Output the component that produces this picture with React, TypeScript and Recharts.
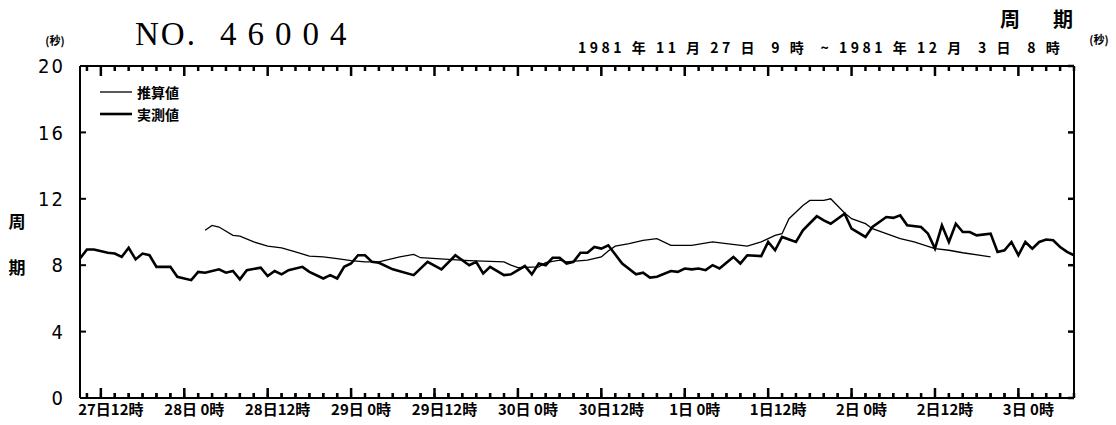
import { LineChart, Line, XAxis, YAxis, Legend } from "recharts";

// hours counted from 1981-11-27 9時
const measuredHours = [
  0, 1, 2, 4, 5, 6, 7, 8, 9, 10, 11, 13, 14, 16, 17, 18, 20, 21, 22, 23, 24, 26,
  27, 28, 29, 30, 32, 33, 35, 36, 37, 38, 39, 40, 41, 42, 43, 45, 48, 50, 52, 54,
  56, 57, 58, 59, 61, 62, 64, 65, 66, 67, 68, 69, 70, 71, 72, 73, 74, 75, 76, 78,
  80, 81, 82, 83, 85, 86, 87, 88, 89, 90, 91, 92, 94, 95, 96, 98, 99, 100, 101,
  103, 104, 106, 107, 108, 110, 111, 113, 114, 116, 117, 118, 119, 121, 122, 123,
  124, 125, 126, 127, 128, 129, 131, 132, 133, 134, 135, 136, 137, 138, 139, 140,
  141, 142, 143,
];
const measuredPeriod = [
  8.4, 8.95, 8.95, 8.75, 8.7, 8.5, 9.05, 8.35, 8.7, 8.6, 7.9, 7.9, 7.3, 7.1, 7.6,
  7.55, 7.75, 7.55, 7.65, 7.15, 7.7, 7.85, 7.35, 7.65, 7.45, 7.7, 7.9, 7.6, 7.2,
  7.4, 7.2, 7.9, 8.1, 8.6, 8.6, 8.2, 8.15, 7.75, 7.4, 8.2, 7.75, 8.6, 8.0, 8.2,
  7.5, 7.9, 7.4, 7.45, 7.95, 7.45, 8.1, 8.0, 8.45, 8.45, 8.1, 8.2, 8.75, 8.75,
  9.1, 9.0, 9.2, 8.1, 7.45, 7.55, 7.25, 7.3, 7.65, 7.6, 7.8, 7.75, 7.8, 7.7, 8.0,
  7.8, 8.5, 8.1, 8.6, 8.55, 9.4, 8.9, 9.7, 9.4, 10.1, 10.95, 10.7, 10.5, 11.1,
  10.2, 9.7, 10.3, 10.9, 10.85, 11.0, 10.4, 10.3, 9.9, 9.0, 10.4, 9.4, 10.5, 10.0,
  10.0, 9.8, 9.9, 8.8, 8.9, 9.4, 8.6, 9.4, 9.0, 9.4, 9.55, 9.5, 9.1, 8.8, 8.6,
];

const estimatedHours = [
  18, 19, 20, 22, 23, 25, 27, 29, 31, 33, 35, 37, 39, 41, 43, 46, 48, 49, 53, 56,
  61, 62, 63, 66, 67, 69, 70, 73, 75, 76, 77, 79, 81, 83, 85, 88, 91, 93, 96, 98,
  100, 101, 102, 104, 105, 107, 108, 110, 111, 113, 114, 116, 118, 120, 123, 125,
  127, 131,
];
const estimatedPeriod = [
  10.1, 10.4, 10.3, 9.8, 9.75, 9.4, 9.15, 9.05, 8.8, 8.55, 8.5, 8.4, 8.28, 8.2,
  8.2, 8.5, 8.65, 8.45, 8.35, 8.28, 8.2, 8.0, 7.85, 7.9, 8.15, 8.3, 8.2, 8.3, 8.5,
  8.85, 9.15, 9.3, 9.5, 9.6, 9.2, 9.2, 9.4, 9.3, 9.15, 9.4, 9.8, 9.9, 10.8, 11.6,
  11.9, 11.9, 12.0, 11.15, 10.8, 10.5, 10.2, 9.9, 9.6, 9.4, 9.0, 8.9, 8.75, 8.5,
];

const seriesNames = ["推算値", "実測値"];
const majorHours = [3, 15, 27, 39, 51, 63, 75, 87, 99, 111, 123, 135];
const majorLabels = [
  "27日12時", "28日 0時", "28日12時", "29日 0時", "29日12時", "30日 0時",
  "30日12時", "1日 0時", "1日12時", "2日 0時", "2日12時", "3日 0時",
];
const periodTicks = [0, 4, 8, 12, 16, 20];

const measured = measuredHours.map((t, i) => ({ t, v: measuredPeriod[i] }));
const estimated = estimatedHours.map((t, i) => ({ t, v: estimatedPeriod[i] }));

// tick every 2 hours (even clock hours)
const hourTicks: number[] = [];
for (let h = 1; h <= 143; h += 2) hourTicks.push(h);

const JP = "'Noto Sans CJK JP', sans-serif";
const NUM = "'Liberation Sans Narrow', 'DejaVu Sans Condensed', sans-serif";
const axisLine = { stroke: "#000", strokeWidth: 2 };
const tickLine = { stroke: "#000", strokeWidth: 2 };

// plot box size, used to mirror the tick marks onto the top and right frame
const PLOT_W = 994;
const PLOT_H = 332;
const X_TICK = 5;
const Y_TICK = 6;

// bottom axis: short ticks come from tickLine, majors get a longer mark + label
function BottomTick({ x, y, payload }: any) {
  const base = y + X_TICK;
  const top = base - PLOT_H;
  const i = majorHours.indexOf(payload.value);
  const len = i >= 0 ? 10 : X_TICK;
  return (
    <g>
      <path
        d={`M${x},${base}V${base - len}M${x},${top}V${top + len}`}
        stroke="#000"
        strokeWidth={2.5}
        fill="none"
      />
      {i >= 0 && (
        <text
          x={x + 10}
          y={base + 17}
          textAnchor="middle"
          fontFamily={JP}
          fontSize={15}
          fontWeight={700}
          style={{ whiteSpace: "pre" }}
          fill="#000"
        >
          {majorLabels[i]}
        </text>
      )}
    </g>
  );
}

// left axis: tick from tickLine, mirrored tick on the right frame, label
function LeftTick({ x, y, payload }: any) {
  const base = x - Y_TICK;
  const right = base + PLOT_W;
  return (
    <g>
      <path d={`M${right},${y}H${right - Y_TICK}`} stroke="#000" strokeWidth={2.5} fill="none" />
      <text x={base - 15} y={y} dy="0.36em" textAnchor="end" fontFamily={NUM} fontSize={20} letterSpacing={2} fill="#000">
        {payload.value}
      </text>
    </g>
  );
}

function RightLabel({ x, y, payload }: any) {
  return (
    <text x={x + 14} y={y} dy="0.36em" textAnchor="start" fontFamily={NUM} fontSize={20} letterSpacing={2} fill="#000">
      {payload.value}
    </text>
  );
}

function LegendBox({ payload }: any) {
  const items = [...(payload || [])].sort(
    (a: any, b: any) => seriesNames.indexOf(a.value) - seriesNames.indexOf(b.value)
  );
  return (
    <div>
      {items.map((e: any) => (
        <div key={e.value} style={{ display: "flex", alignItems: "center", height: 22 }}>
          <svg width={32} height={10}>
            <line x1={0} x2={32} y1={5} y2={5} stroke="#000" strokeWidth={e.payload?.strokeWidth ?? 1} />
          </svg>
          <span style={{ marginLeft: 5, fontFamily: JP, fontSize: 14, fontWeight: 700, lineHeight: "22px" }}>
            {e.value}
          </span>
        </div>
      ))}
    </div>
  );
}

export default function App() {
  return (
    <div style={{ position: "absolute", left: 0, top: 0, width: 1116, height: 425, background: "#fff" }}>
      <LineChart width={1116} height={425} margin={{ top: 65, right: 41, bottom: 26, left: 79 }}>
        <XAxis
          xAxisId="b"
          dataKey="t"
          type="number"
          domain={[0, 143]}
          ticks={hourTicks}
          interval={0}
          height={1}
          tickSize={-X_TICK}
          tickMargin={0}
          tickLine={tickLine}
          tick={BottomTick}
          axisLine={axisLine}
        />
        <XAxis
          xAxisId="t"
          orientation="top"
          dataKey="t"
          type="number"
          domain={[0, 143]}
          height={1}
          tickLine={false}
          tick={false}
          axisLine={axisLine}
        />
        <YAxis
          yAxisId="l"
          domain={[0, 20]}
          ticks={periodTicks}
          interval={0}
          width={1}
          tickSize={-Y_TICK}
          tickMargin={0}
          tickLine={tickLine}
          tick={LeftTick}
          axisLine={axisLine}
        />
        <YAxis
          yAxisId="r"
          orientation="right"
          domain={[0, 20]}
          ticks={periodTicks}
          interval={0}
          width={1}
          tickSize={0}
          tickMargin={0}
          tickLine={false}
          tick={RightLabel}
          axisLine={axisLine}
        />
        <Legend
          layout="horizontal"
          verticalAlign="middle"
          align="center"
          content={LegendBox}
          wrapperStyle={{ top: 81, left: 100, width: 120 }}
        />
        <Line
          xAxisId="b"
          yAxisId="l"
          data={estimated}
          dataKey="v"
          name={seriesNames[0]}
          stroke="#000"
          strokeWidth={1.3}
          dot={false}
          isAnimationActive={false}
        />
        <Line
          xAxisId="b"
          yAxisId="l"
          data={measured}
          dataKey="v"
          name={seriesNames[1]}
          stroke="#000"
          strokeWidth={2.6}
          dot={false}
          isAnimationActive={false}
        />
      </LineChart>
      <svg width={1116} height={425} style={{ position: "absolute", left: 0, top: 0, pointerEvents: "none" }}>
        <text y={45} fontFamily="'Liberation Serif', serif" fontSize={33} fill="#000">
          <tspan x={135} letterSpacing={2}>NO.</tspan>
          <tspan x={220} letterSpacing={11}>46004</tspan>
        </text>
        <text x={55} y={45} textAnchor="middle" fontFamily={JP} fontSize={11} fontWeight={700}>(秒)</text>
        <text x={1099} y={44} textAnchor="middle" fontFamily={JP} fontSize={11} fontWeight={700}>(秒)</text>
        <text x={1000} y={27} fontFamily={JP} fontSize={20} fontWeight={700} letterSpacing={33}>周期</text>
        <text
          x={578}
          y={53}
          fontFamily={JP}
          fontSize={14}
          fontWeight={700}
          letterSpacing={3.5}
          style={{ whiteSpace: "pre" }}
        >
          1981 年 11 月 27 日  9 時  ~ 1981 年 12 月  3 日  8 時
        </text>
        <text x={17} y={222} dy="0.35em" textAnchor="middle" fontFamily={JP} fontSize={17} fontWeight={700}>周</text>
        <text x={17} y={268} dy="0.35em" textAnchor="middle" fontFamily={JP} fontSize={17} fontWeight={700}>期</text>
      </svg>
    </div>
  );
}
